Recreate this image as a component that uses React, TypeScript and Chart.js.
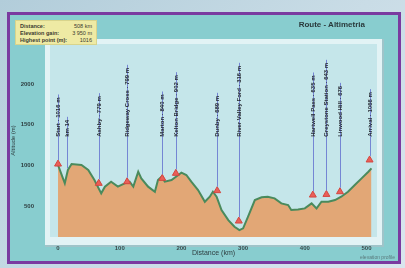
import React, { useEffect, useRef } from "react";
import { Chart, registerables } from "chart.js";

Chart.register(...registerables);

const chartTitle = "Route - Altimetria";
const xAxisTitle = "Distance (km)";
const yAxisTitle = "Altitude (m)";
const infoLabels = ["Distance:", "Elevation gain:", "Highest point (m):"];
const infoValues = ["508 km", "3 950 m", "1016"];
const footerText = "elevation profile";

const xTicks = [0, 100, 200, 300, 400, 500];
const yTicks = [500, 1000, 1500, 2000];

const profileKm = [
  0, 5, 11, 16, 22, 38, 49, 59, 70, 76, 86, 97, 108, 116, 122, 130, 135, 146,
  157, 162, 168, 173, 184, 195, 200, 208, 216, 227, 238, 246, 251, 257, 265,
  276, 286, 294, 300, 308, 319, 330, 340, 351, 362, 373, 378, 389, 400, 411,
  419, 427, 438, 449, 459, 470, 481, 492, 503, 508,
];
const profileAlt = [
  1004, 902, 779, 943, 1016, 1004, 943, 820, 656, 738, 799, 738, 779, 799, 738,
  922, 840, 738, 676, 820, 861, 799, 820, 881, 910, 881, 799, 697, 553, 615,
  676, 615, 451, 328, 246, 205, 226, 369, 574, 607, 615, 594, 533, 512, 451,
  459, 471, 533, 471, 553, 553, 574, 615, 676, 758, 840, 922, 963,
];

const markerKm = [0, 14, 66, 112, 169, 191, 258, 293, 413, 435, 457, 505];
const markerAlt = [1016, 963, 779, 799, 840, 902, 689, 316, 635, 643, 676, 1066];
const markerKind = ["town", "km", "town", "town", "town", "town", "town", "town", "town", "town", "town", "town"];
const markerNames = [
  "Start · 1016 m",
  "km 14",
  "Ashby · 779 m",
  "Ridgeway Cross · 799 m",
  "Marton · 840 m",
  "Kelton Bridge · 902 m",
  "Dunby · 689 m",
  "River Valley Ford · 316 m",
  "Hartwell Pass · 635 m",
  "Greystone Station · 643 m",
  "Linwood Hill · 676",
  "Arrival · 1066 m",
];

const FONT = '"Liberation Sans", Arial, sans-serif';

const plotBgPlugin = {
  id: "plotBg",
  beforeDraw(chart: any) {
    const { ctx, chartArea } = chart;
    const { left, top, right, bottom } = chartArea;
    ctx.save();
    ctx.fillStyle = "#e2f3f5";
    ctx.fillRect(left - 5, top - 5, right - left + 10, bottom - top + 13);
    ctx.fillStyle = "#9fc4c9";
    ctx.fillRect(right + 5, top - 5, 2, bottom - top + 15);
    ctx.fillRect(left - 5, bottom + 8, right - left + 12, 2);
    ctx.fillStyle = "#c5e6ea";
    ctx.fillRect(left, top, right - left, bottom - top);
    ctx.restore();
  },
};

const labelsPlugin = {
  id: "placeLabels",
  afterDatasetsDraw(chart: any) {
    const { ctx } = chart;
    const x = chart.scales.x;
    const y = chart.scales.y;
    const baseY = y.getPixelForValue(1350);
    ctx.save();
    ctx.font = `bold 6px ${FONT}`;
    markerKm.forEach((km, i) => {
      const px = Math.round(x.getPixelForValue(km)) + 0.5;
      const py = y.getPixelForValue(markerAlt[i]);
      const w = ctx.measureText(markerNames[i]).width;
      const topY = baseY - w - 3;
      ctx.strokeStyle = "#7586d4";
      ctx.lineWidth = 1;
      ctx.beginPath();
      ctx.moveTo(px, py - (markerKind[i] === "town" ? 4 : 0));
      ctx.lineTo(px, topY);
      ctx.stroke();
      ctx.save();
      ctx.translate(px, baseY);
      ctx.rotate(-Math.PI / 2);
      ctx.fillStyle = "#262a33";
      ctx.textAlign = "left";
      ctx.textBaseline = "middle";
      ctx.fillText(markerNames[i], 0, 0);
      ctx.restore();
    });
    ctx.restore();
  },
};

export default function App() {
  const canvasRef = useRef<HTMLCanvasElement | null>(null);

  useEffect(() => {
    if (!canvasRef.current) return;
    Chart.defaults.font.family = FONT;
    const chart = new Chart(canvasRef.current, {
      type: "line",
      data: {
        datasets: [
          {
            type: "scatter",
            data: markerKm
              .map((km, i) => ({ x: km, y: markerAlt[i], kind: markerKind[i] }))
              .filter((p) => p.kind === "town")
              .map((p) => ({ x: p.x, y: p.y })),
            pointStyle: "triangle",
            pointRadius: 4,
            backgroundColor: "#ea5f58",
            borderColor: "#d4463f",
            borderWidth: 1,
            order: 0,
          } as any,
          {
            data: profileKm.map((km, i) => ({ x: km, y: profileAlt[i] })),
            fill: "start",
            backgroundColor: "#e2a776",
            borderColor: "#4a8a5c",
            borderWidth: 2,
            pointRadius: 0,
            tension: 0,
            order: 1,
          },
        ],
      },
      options: {
        animation: false,
        responsive: true,
        maintainAspectRatio: false,
        layout: { padding: { top: 29, right: 21, left: 0, bottom: 4 } },
        plugins: {
          legend: { display: false },
          tooltip: { enabled: false },
          title: { display: false },
        },
        scales: {
          x: {
            type: "linear",
            min: -13,
            max: 517,
            afterBuildTicks: (s: any) => {
              s.ticks = xTicks.map((v) => ({ value: v }));
            },
            afterFit: (s: any) => {
              s.height = 20;
            },
            grid: { display: false },
            border: { display: false },
            ticks: {
              font: { size: 6, weight: "bold" },
              color: "#3a4a4c",
              padding: 0,
              maxRotation: 0,
              callback: (v: any) => String(v),
            },
            title: {
              display: true,
              text: xAxisTitle,
              font: { size: 7 },
              color: "#2e3e40",
              padding: { top: 0, bottom: 0 },
            },
          },
          y: {
            type: "linear",
            min: 120,
            max: 2490,
            afterBuildTicks: (s: any) => {
              s.ticks = yTicks.map((v) => ({ value: v }));
            },
            afterFit: (s: any) => {
              s.width = 40;
            },
            grid: { display: false },
            border: { display: false },
            ticks: {
              font: { size: 6, weight: "bold" },
              color: "#2e3e40",
              padding: 8,
              callback: (v: any) => String(v),
            },
            title: {
              display: true,
              text: yAxisTitle,
              font: { size: 6 },
              color: "#2e3e40",
              padding: { top: 0, bottom: 0 },
            },
          },
        },
      },
      plugins: [plotBgPlugin, labelsPlugin],
    });
    return () => chart.destroy();
  }, []);

  return (
    <div
      style={{
        position: "fixed",
        left: 0,
        top: 0,
        width: 405,
        height: 268,
        overflow: "hidden",
        background: "linear-gradient(135deg, #b2cdda 0%, #c9dce6 55%, #d9e6ee 100%)",
        fontFamily: FONT,
      }}
    >
      <div
        style={{
          position: "absolute",
          left: 7,
          top: 12,
          width: 394,
          height: 252,
          boxSizing: "border-box",
          border: "3px solid #7a3aa0",
          background: "#88cdcf",
        }}
      >
        <div style={{ position: "absolute", left: 0, top: 0, width: 388, height: 246 }}>
          <canvas ref={canvasRef} />
        </div>
        <div
          style={{
            position: "absolute",
            left: 5,
            top: 5,
            width: 82,
            height: 25,
            boxSizing: "border-box",
            background: "#eeeaa4",
            border: "1px solid #d8d48c",
            padding: "2px 4px",
            fontSize: 5.5,
            lineHeight: "7px",
            color: "#3a3a30",
          }}
        >
          {infoLabels.map((l, i) => (
            <div key={l} style={{ display: "flex", justifyContent: "space-between", fontWeight: "bold" }}>
              <span>{l}</span>
              <span style={{ fontWeight: "normal" }}>{infoValues[i]}</span>
            </div>
          ))}
        </div>
        <div
          style={{
            position: "absolute",
            right: 33,
            top: 5,
            fontSize: 8,
            fontWeight: "bold",
            color: "#2a3a3c",
            whiteSpace: "nowrap",
          }}
        >
          {chartTitle}
        </div>
        <div
          style={{
            position: "absolute",
            right: 3,
            bottom: 1,
            fontSize: 5,
            color: "#5a7a7c",
            whiteSpace: "nowrap",
          }}
        >
          {footerText}
        </div>
      </div>
    </div>
  );
}
